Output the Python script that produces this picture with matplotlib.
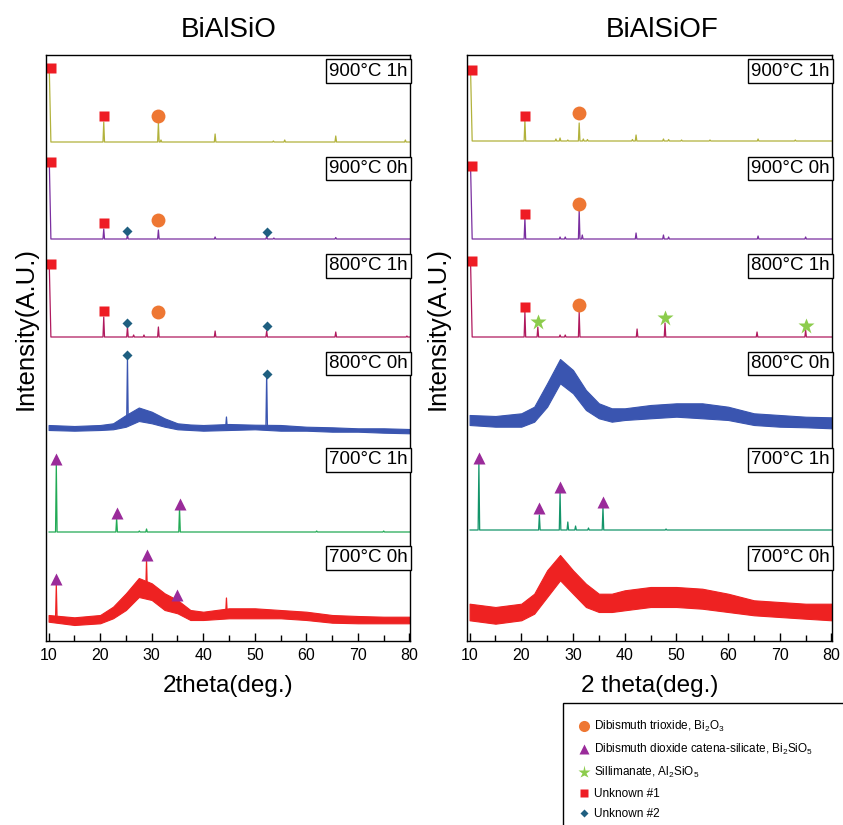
import numpy as np
import matplotlib
matplotlib.use('Agg')
import matplotlib.pyplot as plt
from matplotlib.lines import Line2D
from matplotlib.patches import Rectangle

plt.rcParams['font.family'] = ['Liberation Sans', 'DejaVu Sans']
plt.rcParams['mathtext.default'] = 'regular'
NARROW = ['Liberation Sans Narrow', 'Liberation Sans', 'DejaVu Sans']

#%% data (intensities in arbitrary units, relative to each trace's baseline)

labels = ['900°C 1h', '900°C 0h', '800°C 1h', '800°C 0h', '700°C 1h', '700°C 0h']
colors_L = ['#b2b23c', '#7a2fa0', '#b01a5e', '#3a55b0', '#22aa55', '#ee2222']
colors_R = ['#b2b23c', '#7a2fa0', '#b01a5e', '#3a55b0', '#14956a', '#ee2222']

# sharp (crystalline) patterns: (2theta, height)
peaks_L = {
    '900°C 1h': [(10.15, 70), (20.7, 20), (31.3, 19), (31.8, 2), (42.3, 8), (53.6, 1),
                 (55.8, 2), (65.7, 6), (79.2, 2)],
    '900°C 0h': [(10.15, 75), (20.7, 10), (25.3, 4), (31.3, 9), (42.3, 2), (52.3, 3),
                 (53.7, 1), (65.7, 1.5)],
    '800°C 1h': [(10.15, 69), (20.7, 20), (25.3, 10), (26.5, 2), (28.5, 2), (31.3, 10),
                 (42.3, 6), (52.3, 6), (65.7, 5), (79.5, 1)],
    '700°C 1h': [(11.5, 68), (23.2, 14), (27.6, 1), (29.0, 3), (35.4, 24), (62.0, 1),
                 (75.0, 1)],
}
peaks_R = {
    '900°C 1h': [(10.2, 68), (20.7, 21), (26.7, 2), (27.5, 3), (29.0, 1), (31.2, 18),
                 (32.0, 2), (32.8, 1.5), (41.5, 1.5), (42.2, 6), (47.5, 2), (48.5, 1.5),
                 (51.0, 1), (56.5, 1), (65.8, 2), (73.0, 1)],
    '900°C 0h': [(10.2, 70), (20.7, 21), (27.5, 2), (28.5, 2), (31.2, 29), (31.8, 4),
                 (42.2, 6), (47.5, 4), (48.5, 2), (65.8, 3), (75.0, 2)],
    '800°C 1h': [(10.2, 72), (20.7, 25), (23.2, 10), (27.5, 2), (28.5, 2), (31.2, 25),
                 (42.4, 8), (47.8, 14), (65.6, 5), (75.0, 7)],
    '700°C 1h': [(11.8, 67), (23.5, 15), (27.5, 38), (29.0, 8), (30.5, 4), (33.0, 2),
                 (35.8, 23), (48.0, 1)],
}

# broad (amorphous) patterns: lower / upper envelope of the noisy trace
grid = [10, 15, 20, 22.5, 25, 27.5, 30, 32.5, 35, 37.5, 40, 45, 50, 55, 60, 65, 70, 75, 80]
band_L = {
    '800°C 0h': ([0, -0.7, 0, 0.7, 3.3, 9, 6.7, 3.3, 0.7, 0, -0.7, 0, 0.7, -0.7, -0.7, -1.7, -1.7, -2.7, -3.3],
                 [5, 4, 5, 6.7, 15, 22.5, 18.3, 11.7, 6.7, 5.5, 5, 6, 5.3, 5, 3.3, 2.7, 1.7, 1.7, 1]),
    '700°C 0h': ([-1.7, -5, -3.3, 1.7, 10, 23, 20, 10, 6.7, 0, 0, 1.7, 1.7, 1.7, 0, -2.7, -3.3, -3.3, -3.3],
                 [5, 2.7, 5, 13.3, 26.7, 42, 36.7, 26.7, 20, 10, 8.3, 11.7, 11.7, 10, 8.3, 5, 4, 3.3, 3.3]),
}
band_R = {
    '800°C 0h': ([0, -1.7, -1.7, 3.3, 18.3, 41.7, 31.7, 15, 6.7, 3.3, 5, 6.7, 8.3, 6.7, 5, 0, -1.7, -2.3, -3.3],
                 [10, 9, 11.7, 18.3, 41.7, 66, 55, 35, 21.7, 16.7, 16.7, 20, 21.7, 21.7, 18.3, 11.7, 10, 8.3, 7.7]),
    '700°C 0h': ([-3.3, -6.7, -3.3, 3.3, 20, 36.7, 23.3, 10, 5, 5, 6.7, 10, 10, 8.3, 5, 1.7, 0, -1.7, -3.3],
                 [13.3, 10, 13.3, 23.3, 46.7, 62, 46.7, 33.3, 23.3, 23.3, 26.7, 30, 30, 28.3, 23.3, 16.7, 15, 13.3, 13.3]),
}
# sharp spikes sitting on the broad patterns
spikes_L = {
    '800°C 0h': [(25.3, 73), (44.5, 13), (52.3, 57)],
    '700°C 0h': [(11.5, 35), (29.0, 60), (35.0, 22), (44.5, 22)],
}
spikes_R = {}

# phase markers: (phase, 2theta, height)
marks_L = {
    '900°C 1h': [('U1', 10.5, 74), ('U1', 20.8, 26), ('B2O3', 31.3, 26)],
    '900°C 0h': [('U1', 10.5, 77), ('U1', 20.8, 16), ('U2', 25.3, 8), ('B2O3', 31.3, 19), ('U2', 52.3, 7)],
    '800°C 1h': [('U1', 10.5, 73), ('U1', 20.8, 26), ('U2', 25.3, 14), ('B2O3', 31.3, 25), ('U2', 52.3, 11)],
    '800°C 0h': [('U2', 25.3, 75), ('U2', 52.3, 56)],
    '700°C 1h': [('BSO', 11.5, 73), ('BSO', 23.2, 19), ('BSO', 35.4, 28)],
    '700°C 0h': [('BSO', 11.5, 41), ('BSO', 29.0, 65), ('BSO', 35.0, 25)],
}
marks_R = {
    '900°C 1h': [('U1', 10.5, 71), ('U1', 20.8, 25), ('B2O3', 31.2, 28)],
    '900°C 0h': [('U1', 10.5, 73), ('U1', 20.8, 25), ('B2O3', 31.2, 35)],
    '800°C 1h': [('U1', 10.5, 76), ('U1', 20.8, 30), ('AS', 23.2, 15), ('B2O3', 31.2, 32),
                 ('AS', 47.8, 19), ('AS', 75.0, 11)],
    '800°C 0h': [],
    '700°C 1h': [('BSO', 11.8, 72), ('BSO', 23.5, 22), ('BSO', 27.5, 43), ('BSO', 35.8, 28)],
    '700°C 0h': [],
}

phases = ['B2O3', 'BSO', 'AS', 'U1', 'U2']
phase_names = ['Dibismuth trioxide, Bi$_2$O$_3$',
               'Dibismuth dioxide catena-silicate, Bi$_2$SiO$_5$',
               'Sillimanate, Al$_2$SiO$_5$',
               'Unknown #1',
               'Unknown #2']
phase_style = {'B2O3': dict(marker='o', color='#ee7733', ms=10),
               'BSO': dict(marker='^', color='#9a2b9a', ms=9),
               'AS': dict(marker='*', color='#8ccc4c', ms=12),
               'U1': dict(marker='s', color='#ee1c24', ms=7.5),
               'U2': dict(marker='D', color='#1f5f80', ms=5)}

# vertical offsets of the stacked traces
offsets_L = [499, 402, 304, 211, 109, 21]
offsets_R = [500, 402, 304, 216, 111, 24]
box_y = [570, 472.5, 375, 277.5, 181, 83]

#%% plotting

def sharp_line(peaks, x1=80.0, w=0.15):
    xs, ys = [], []
    for i, (p, h) in enumerate(peaks):
        if i == 0 and p < 10.3:
            xs += [p, p + 0.3]
            ys += [h, 0]
        else:
            if i == 0:
                xs.append(10.1); ys.append(0)
            xs += [p - w, p, p + w]
            ys += [0, h, 0]
    xs.append(x1); ys.append(0)
    return np.array(xs), np.array(ys)


fig = plt.figure(figsize=(8.43, 8.25), dpi=100)
axL = fig.add_axes([46/843, 1-641/825, 364/843, 586/825])
axR = fig.add_axes([467/843, 1-641/825, 365/843, 586/825])

for ax, peaks, bands, spikes, marks, offs, cols in [
        (axL, peaks_L, band_L, spikes_L, marks_L, offsets_L, colors_L),
        (axR, peaks_R, band_R, spikes_R, marks_R, offsets_R, colors_R)]:
    for lab, off, c, by in zip(labels, offs, cols, box_y):
        if lab in peaks:
            x, y = sharp_line(peaks[lab])
            ax.plot(x, y + off, color=c, lw=0.9)
        else:
            lo, hi = bands[lab]
            lo, hi = np.array(lo), np.array(hi)
            ax.fill_between(grid, lo + off, hi + off, color=c, lw=0.8)
            mid = (lo + hi) / 2
            for p, h in spikes.get(lab, []):
                m = np.interp(p, grid, mid)
                ax.plot([p - 0.15, p, p + 0.15], [m + off, h + off, m + off], color=c, lw=0.9)
        for ph, p, h in marks[lab]:
            st = phase_style[ph]
            ax.plot(p, h + off, ls='none', marker=st['marker'], color=st['color'],
                    ms=st['ms'], mec='none')
        ax.text(0.994, by / 586, lab, transform=ax.transAxes, ha='right', va='center',
                fontsize=13.5, bbox=dict(boxstyle='square,pad=0.18', fc='white', ec='black', lw=1))

    ax.set_xlim(9.5, 80.1)
    ax.set_ylim(0, 586)
    ax.set_yticks([])
    ax.set_xticks(np.arange(10, 81, 10))
    ax.set_xticks(np.arange(15, 80, 10), minor=True)
    ax.tick_params(axis='x', which='major', direction='in', length=6, width=1, pad=5)
    ax.tick_params(axis='x', which='minor', direction='in', length=4, width=1)
    for t in ax.get_xticklabels():
        t.set_family(NARROW)
        t.set_fontsize(11.5)
    for s in ax.spines.values():
        s.set_linewidth(1)

fig.text(229/843, 1-30/825, 'BiAlSiO', ha='center', va='center', fontsize=20, family=NARROW)
fig.text(662/843, 1-30/825, 'BiAlSiOF', ha='center', va='center', fontsize=20, family=NARROW)
fig.text(228/843, 1-686/825, '2theta(deg.)', ha='center', va='center', fontsize=17.5, family=NARROW)
fig.text(650/843, 1-686/825, '2 theta(deg.)', ha='center', va='center', fontsize=17.5, family=NARROW)
fig.text(26/843, 1-328/825, 'Intensity(A.U.)', ha='center', va='center', rotation=90, fontsize=18.5)
fig.text(438/843, 1-328/825, 'Intensity(A.U.)', ha='center', va='center', rotation=90, fontsize=18.5)

# legend box, running off the figure edge like the original
fig.patches.append(Rectangle((563/843, -0.05), 0.5, 1-703/825+0.05, transform=fig.transFigure,
                             fc='white', ec='black', lw=1, clip_on=False))
handles = [Line2D([], [], ls='none', marker=phase_style[p]['marker'], color=phase_style[p]['color'],
                  mec='none', ms=phase_style[p]['ms'] * 0.8) for p in phases]
fig.legend(handles, phase_names, loc='upper left', bbox_to_anchor=(579/843, 1-719/825),
           frameon=False, fontsize=8.5, handlelength=0.8, handletextpad=0.5,
           labelspacing=0.68, borderaxespad=0, borderpad=0)

plt.savefig('out.png', dpi=100)
